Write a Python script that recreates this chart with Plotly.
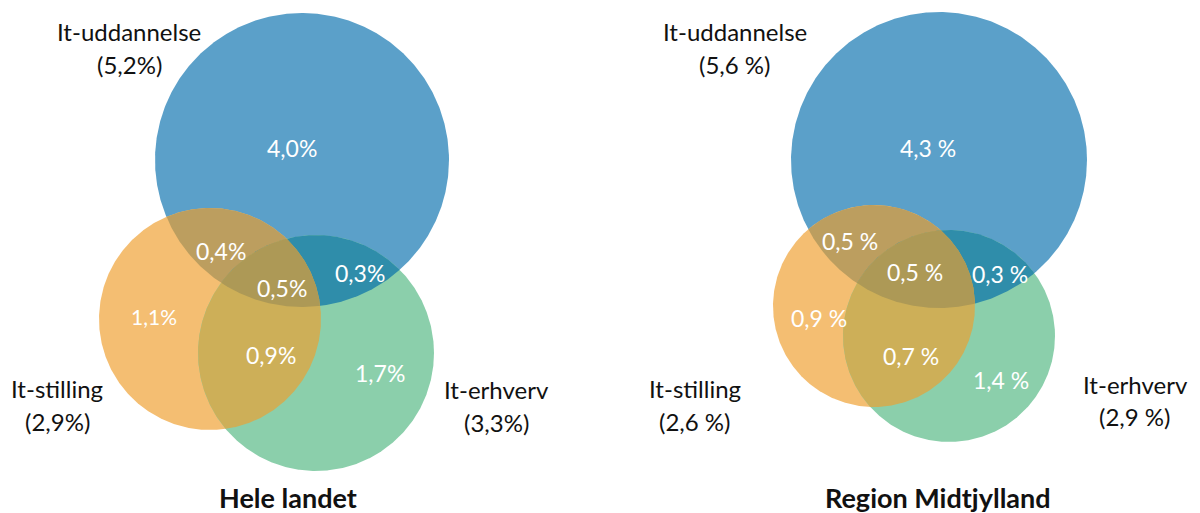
import numpy as np
import plotly.graph_objects as go

# ---------------- data ----------------
set_names = ["It-uddannelse", "It-stilling", "It-erhverv"]
panel_titles = ["Hele landet", "Region Midtjylland"]

# totals per set
totals_hele = ["5,2%", "2,9%", "3,3%"]
totals_midt = ["5,6 %", "2,6 %", "2,9 %"]

# region values: only U, only S, only E, U∩S, U∩E, S∩E, U∩S∩E
regions = ["U", "S", "E", "US", "UE", "SE", "USE"]
values_hele = ["4,0%", "1,1%", "1,7%", "0,4%", "0,3%", "0,9%", "0,5%"]
values_midt = ["4,3 %", "0,9 %", "1,4 %", "0,5 %", "0,3 %", "0,7 %", "0,5 %"]

# ---------------- layout geometry (pixel space) ----------------
circles = {
    "hele": {"U": (302, 160, 147), "S": (210, 319, 111), "E": (316, 353, 118)},
    "midt": {"U": (939, 160, 148), "S": (874, 306, 101), "E": (949, 336, 106)},
}
region_pos = {
    "hele": {"U": (292, 148), "S": (154, 316), "E": (380, 373), "US": (221, 251),
             "UE": (360, 273), "SE": (271, 355), "USE": (282, 288)},
    "midt": {"U": (928, 148), "S": (819, 318), "E": (1001, 380), "US": (850, 241),
             "UE": (1000, 274), "SE": (911, 356), "USE": (915, 272)},
}
set_label_pos = {
    "hele": [(129, 31, 64), (57, 388, 421), (496, 389, 422)],
    "midt": [(735, 31, 64), (695, 388, 421), (1135, 384, 416)],
}
title_pos = {"hele": (288, 497), "midt": (938, 497)}

colors = {"U": "#5BA0C9", "S": "#F4BE72", "E": "#8BCFAB",
          "US": "#BC9E5F", "UE": "#2F8DAA", "SE": "#CDAF58", "USE": "#AD9956"}

FONT = "Lato"


def circle_pts(c, n=720):
    cx, cy, r = c
    t = np.linspace(0, 2 * np.pi, n, endpoint=False)
    return cx + r * np.cos(t), cy + r * np.sin(t)


def inside(x, y, c):
    cx, cy, r = c
    return (x - cx) ** 2 + (y - cy) ** 2 <= r ** 2 + 1e-6


def intersection(cs):
    xs, ys = [], []
    for i, c in enumerate(cs):
        x, y = circle_pts(c)
        m = np.ones_like(x, dtype=bool)
        for j, o in enumerate(cs):
            if j != i:
                m &= inside(x, y, o)
        xs.append(x[m])
        ys.append(y[m])
    x = np.concatenate(xs)
    y = np.concatenate(ys)
    mx, my = x.mean(), y.mean()
    order = np.argsort(np.arctan2(y - my, x - mx))
    x, y = x[order], y[order]
    return np.append(x, x[0]), np.append(y, y[0])


fig = go.Figure()
annotations = []

for key, totals, vals, title in [("hele", totals_hele, values_hele, panel_titles[0]),
                                 ("midt", totals_midt, values_midt, panel_titles[1])]:
    cs = circles[key]
    # full circles
    for s in ["U", "S", "E"]:
        x, y = circle_pts(cs[s])
        fig.add_trace(go.Scatter(x=np.append(x, x[0]), y=np.append(y, y[0]), mode="lines",
                                 fill="toself", fillcolor=colors[s], line=dict(width=0),
                                 hoverinfo="skip", showlegend=False))
    # overlaps
    for reg in ["US", "UE", "SE", "USE"]:
        x, y = intersection([cs[ch] for ch in reg])
        fig.add_trace(go.Scatter(x=x, y=y, mode="lines", fill="toself",
                                 fillcolor=colors[reg], line=dict(width=0),
                                 hoverinfo="skip", showlegend=False))
    # region values
    for reg, v in zip(regions, vals):
        px, py = region_pos[key][reg]
        size = 21 if (key == "hele" and reg == "S") else 23
        annotations.append(dict(x=px, y=py, text=v, showarrow=False, xanchor="center",
                                yanchor="middle", font=dict(family=FONT, size=size, color="white")))
    # set labels
    for name, tot, (lx, ly1, ly2) in zip(set_names, totals, set_label_pos[key]):
        annotations.append(dict(x=lx, y=ly1, text=name, showarrow=False, xanchor="center",
                                yanchor="middle", font=dict(family=FONT, size=24, color="#111111")))
        annotations.append(dict(x=lx, y=ly2, text="(" + tot + ")", showarrow=False,
                                xanchor="center", yanchor="middle",
                                font=dict(family=FONT, size=24, color="#111111")))
    tx, ty = title_pos[key]
    annotations.append(dict(x=tx, y=ty, text="<b>" + title + "</b>", showarrow=False,
                            xanchor="center", yanchor="middle",
                            font=dict(family=FONT, size=27, color="#111111")))

fig.update_layout(
    width=1200, height=513, autosize=False,
    margin=dict(l=0, r=0, t=0, b=0),
    paper_bgcolor="white", plot_bgcolor="white",
    xaxis=dict(range=[0, 1200], visible=False, fixedrange=True),
    yaxis=dict(range=[513, 0], visible=False, fixedrange=True),
    annotations=annotations,
)

fig.write_html("out.html", post_script="document.body.style.margin='0';",
               config={"displayModeBar": False})
